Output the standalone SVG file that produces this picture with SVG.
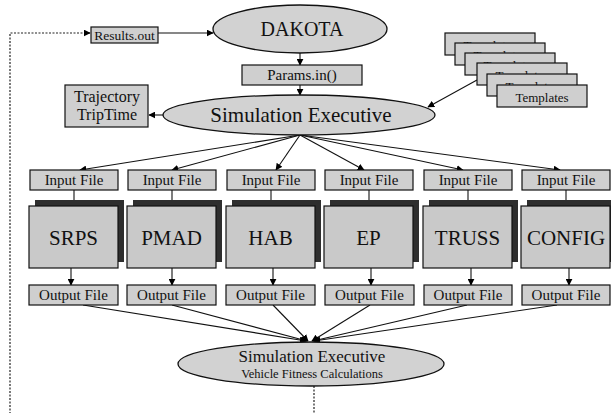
<svg xmlns="http://www.w3.org/2000/svg" width="611" height="413" viewBox="0 0 611 413" font-family="'Liberation Serif', 'DejaVu Serif', serif">
<defs>
<marker id="ah" viewBox="0 0 10 10" refX="9" refY="5" markerWidth="7" markerHeight="7" markerUnits="userSpaceOnUse" orient="auto"><path d="M0,0 L10,5 L0,10 z" fill="#000"/></marker>
<style>
text{font-family:'Liberation Serif','Times New Roman','DejaVu Serif',serif;fill:#111;text-anchor:middle}
.ell{fill:#d2d2d2;stroke:#111;stroke-width:1.3}
.box{fill:#cfcfcf;stroke:#111;stroke-width:1.2}
.big{fill:#c9c9c9;stroke:#111;stroke-width:1.2}
.sh{fill:#2e2e2e}
.c{fill:none;stroke:#111;stroke-width:1.1;marker-end:url(#ah)}
.d{fill:none;stroke:#222;stroke-width:1.2;stroke-dasharray:2 1.5}
.t15{font-size:15px}
.t13{font-size:13px}
</style>
</defs>
<rect width="611" height="413" fill="#fff"/>

<g id="connectors">
<path class="d" d="M314,386 V416 H10 V33 H84"/>
<line x1="84" y1="33" x2="90" y2="33" class="c"/>
<line x1="158" y1="33" x2="213" y2="33" class="c"/>
<line x1="300" y1="53" x2="300" y2="65" class="c"/>
<line x1="300" y1="85" x2="300" y2="95" class="c"/>
<line x1="164" y1="115" x2="149" y2="115" class="c"/>
<line x1="477" y1="80" x2="428" y2="107" class="c"/>
<line x1="300" y1="135" x2="80" y2="170" class="c"/>
<line x1="300" y1="135" x2="172" y2="170" class="c"/>
<line x1="300" y1="135" x2="276" y2="170" class="c"/>
<line x1="300" y1="135" x2="364" y2="170" class="c"/>
<line x1="300" y1="135" x2="463" y2="170" class="c"/>
<line x1="300" y1="135" x2="560" y2="170" class="c"/>
<line x1="74" y1="190" x2="74" y2="206" class="c"/>
<line x1="172" y1="190" x2="172" y2="206" class="c"/>
<line x1="271" y1="190" x2="271" y2="206" class="c"/>
<line x1="369" y1="190" x2="369" y2="206" class="c"/>
<line x1="468" y1="190" x2="468" y2="206" class="c"/>
<line x1="566" y1="190" x2="566" y2="206" class="c"/>
<line x1="71" y1="268" x2="71" y2="285" class="c"/>
<line x1="172" y1="268" x2="172" y2="285" class="c"/>
<line x1="273" y1="268" x2="273" y2="285" class="c"/>
<line x1="371" y1="268" x2="371" y2="285" class="c"/>
<line x1="471" y1="268" x2="471" y2="285" class="c"/>
<line x1="569" y1="268" x2="569" y2="285" class="c"/>
<line x1="83" y1="305" x2="306" y2="341" class="c"/>
<line x1="172" y1="305" x2="307" y2="341" class="c"/>
<line x1="273" y1="305" x2="308" y2="341" class="c"/>
<line x1="370" y1="305" x2="312" y2="341" class="c"/>
<line x1="467" y1="305" x2="313" y2="341" class="c"/>
<line x1="557" y1="305" x2="314" y2="341" class="c"/>
</g>

<g id="results"><rect class="box" x="91" y="27" width="67" height="16"/><text x="124.5" y="39.5" style="font-size:13.5px">Results.out</text></g>

<g id="dakota"><ellipse class="ell" cx="300" cy="29" rx="87" ry="24"/><text x="302" y="36" style="font-size:20px">DAKOTA</text></g>

<g id="params"><rect class="box" x="242" y="65" width="120" height="20"/><text x="302" y="80" class="t15">Params.in()</text></g>

<g id="simexec"><ellipse class="ell" cx="299" cy="115" rx="136" ry="20"/><text x="301" y="122" style="font-size:21px">Simulation Executive</text></g>

<g id="trajectory"><rect class="box" x="65" y="85" width="83" height="42"/><text x="107" y="102" style="font-size:16px">Trajectory</text><text x="107" y="120" style="font-size:16px">TripTime</text></g>

<g id="templates">
<rect class="box" x="445" y="33" width="90" height="22"/><text x="490" y="50" class="t13">Templates</text>
<rect class="box" x="455" y="43" width="90" height="22"/><text x="500" y="60" class="t13">Templates</text>
<rect class="box" x="465" y="53" width="90" height="22"/><text x="510" y="70" class="t13">Templates</text>
<rect class="box" x="477" y="63" width="90" height="22"/><text x="522" y="80" class="t13">Templates</text>
<rect class="box" x="487" y="74" width="90" height="22"/><text x="532" y="91" class="t13">Templates</text>
<rect class="box" x="497" y="85" width="90" height="22"/><text x="542" y="102" class="t13">Templates</text>
</g>

<g id="in1"><rect class="box" x="30" y="170" width="88" height="20"/><text x="74" y="185" class="t15">Input File</text></g>
<g id="in2"><rect class="box" x="128" y="170" width="88" height="20"/><text x="172" y="185" class="t15">Input File</text></g>
<g id="in3"><rect class="box" x="227" y="170" width="88" height="20"/><text x="271" y="185" class="t15">Input File</text></g>
<g id="in4"><rect class="box" x="325" y="170" width="88" height="20"/><text x="369" y="185" class="t15">Input File</text></g>
<g id="in5"><rect class="box" x="424" y="170" width="88" height="20"/><text x="468" y="185" class="t15">Input File</text></g>
<g id="in6"><rect class="box" x="522" y="170" width="88" height="20"/><text x="566" y="185" class="t15">Input File</text></g>

<g id="srps"><rect class="sh" x="35" y="200" width="89" height="62"/><rect class="big" x="29" y="206" width="89" height="62"/><text x="73.5" y="245" style="font-size:21px">SRPS</text></g>
<g id="pmad"><rect class="sh" x="133" y="200" width="89" height="62"/><rect class="big" x="127" y="206" width="89" height="62"/><text x="171.5" y="245" style="font-size:21px">PMAD</text></g>
<g id="hab"><rect class="sh" x="232" y="200" width="89" height="62"/><rect class="big" x="226" y="206" width="89" height="62"/><text x="270.5" y="245" style="font-size:21px">HAB</text></g>
<g id="ep"><rect class="sh" x="330" y="200" width="89" height="62"/><rect class="big" x="324" y="206" width="89" height="62"/><text x="368.5" y="245" style="font-size:21px">EP</text></g>
<g id="truss"><rect class="sh" x="429" y="200" width="89" height="62"/><rect class="big" x="423" y="206" width="89" height="62"/><text x="467.5" y="245" style="font-size:21px">TRUSS</text></g>
<g id="config"><rect class="sh" x="527" y="200" width="89" height="62"/><rect class="big" x="521" y="206" width="89" height="62"/><text x="566" y="245" style="font-size:21px">CONFIG</text></g>

<g id="out1"><rect class="box" x="29" y="285" width="89" height="20"/><text x="73.5" y="300" class="t15">Output File</text></g>
<g id="out2"><rect class="box" x="127" y="285" width="89" height="20"/><text x="171.5" y="300" class="t15">Output File</text></g>
<g id="out3"><rect class="box" x="226" y="285" width="89" height="20"/><text x="270.5" y="300" class="t15">Output File</text></g>
<g id="out4"><rect class="box" x="325" y="285" width="89" height="20"/><text x="369.5" y="300" class="t15">Output File</text></g>
<g id="out5"><rect class="box" x="424" y="285" width="88" height="20"/><text x="468" y="300" class="t15">Output File</text></g>
<g id="out6"><rect class="box" x="522" y="285" width="88" height="20"/><text x="566" y="300" class="t15">Output File</text></g>

<g id="fitness"><ellipse class="ell" cx="311" cy="364" rx="133" ry="22"/><text x="312" y="362" style="font-size:17px">Simulation Executive</text><text x="312" y="378" style="font-size:12.5px">Vehicle Fitness Calculations</text></g>
</svg>
